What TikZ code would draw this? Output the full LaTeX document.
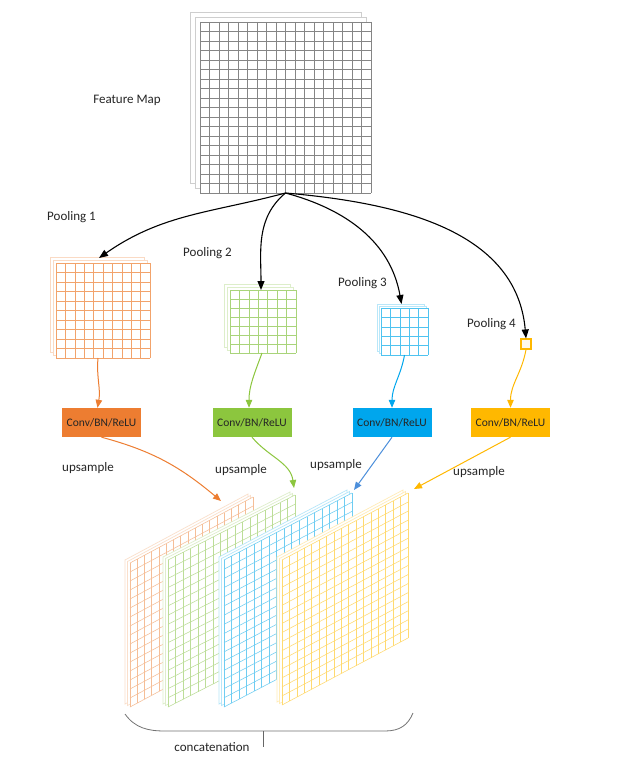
\documentclass[tikz,border=0pt]{standalone}
\usepackage{fontspec}
\setmainfont{Carlito}
\usetikzlibrary{arrows.meta}
\definecolor{cOr}{HTML}{ED7D31}
\definecolor{cGr}{HTML}{8CC63E}
\definecolor{cBl}{HTML}{00A6ED}
\definecolor{cYe}{HTML}{FFB800}
\definecolor{cUpB}{HTML}{4C8FDB}
\definecolor{cGray}{HTML}{858585}
\definecolor{gOr}{HTML}{F2A36B}
\definecolor{gGr}{HTML}{A9D47A}
\definecolor{gBl}{HTML}{4FC3F0}
\definecolor{gYe}{HTML}{FFD35C}
\definecolor{hOr}{HTML}{F5BE97}
\definecolor{hGr}{HTML}{BCDD98}
\definecolor{hBl}{HTML}{6FCDF2}
\definecolor{hYe}{HTML}{FFDA70}
% #1 name #2 x #3 y #4 w #5 h #6 n #7 color #8 offset
\newcommand{\flatmap}[8]{%
  \foreach \k in {2,1}{%
    \draw[#7!40, line width=0.9pt, fill=white] ({#2-\k*#8},{#3-\k*#8}) rectangle ++(#4,#5);}
  \node[inner sep=0, outer sep=0, minimum width=#4 pt, minimum height=#5 pt, anchor=north west, fill=white] (#1) at (#2,#3) {};
  \pgfmathsetmacro\fmdx{#4/#6}\pgfmathsetmacro\fmdy{#5/#6}
  \foreach \i in {0,...,#6}{%
    \draw[#7, line width=0.6pt] ({#2+\i*\fmdx},#3) -- ++(0,#5);
    \draw[#7, line width=0.6pt] (#2,{#3+\i*\fmdy}) -- ++(#4,0);}
}
% #1 name #2 bx #3 by #4 w #5 h #6 rise #7 ncols #8 nrows #9 color
\newcommand{\persmap}[9]{%
  \foreach \k in {2,1}{%
    \draw[#9!50, line width=0.7pt, fill=white] ({#2-2.5*\k},{#3-1.5*\k}) -- ++(0,-#5) -- ++(#4,-#6) -- ++(0,#5) -- cycle;}
  \coordinate (#1) at (#2,#3);
  \fill[white] (#2,#3) -- ++(0,-#5) -- ++(#4,-#6) -- ++(0,#5) -- cycle;
  \pgfmathsetmacro\pmdx{#4/#7}\pgfmathsetmacro\pmdr{#6/#7}\pgfmathsetmacro\pmdy{#5/#8}
  \foreach \i in {0,...,#7}{%
    \draw[#9, line width=0.55pt] ({#2+\i*\pmdx},{#3-\i*\pmdr}) -- ++(0,-#5);}
  \foreach \j in {0,...,#8}{%
    \draw[#9, line width=0.55pt] (#2,{#3-\j*\pmdy}) -- ++(#4,-#6);}
}
\begin{document}
\begin{tikzpicture}[x=1pt,y=-1pt,
  lbl/.style={font=\fontsize{13}{15}\selectfont, text=black!85, inner sep=0},
  convbox/.style={minimum width=79pt, minimum height=29pt, inner sep=0, font=\fontsize{11.5}{13}\selectfont, text=black!85},
  blk/.style={-{Triangle[length=9pt,width=7pt]}, line width=1.1pt, black},
  carr/.style={-{Triangle[length=8pt,width=6.5pt]}, line width=1pt}]
\useasboundingbox[fill=white] (0,0) rectangle (616,757);

% feature map
\flatmap{fm}{200}{22}{171}{171}{18}{cGray}{5}
\node[lbl] (tFM) at (127,100) {Feature Map};

% pooling maps
\flatmap{p1}{56}{263}{94}{95}{10}{gOr}{3}
\flatmap{p2}{230}{290}{66}{63}{7}{gGr}{2.8}
\flatmap{p3}{381}{308}{47}{47}{5}{gBl}{2}
\node[draw=cYe, line width=1.1pt, fill=cYe!8, minimum size=10pt, inner sep=0] (p4) at (526,344) {};

\node[lbl, anchor=west] (tP1) at (47,217) {Pooling 1};
\node[lbl, anchor=west] (tP2) at (183,253) {Pooling 2};
\node[lbl, anchor=west] (tP3) at (338,283) {Pooling 3};
\node[lbl, anchor=west] (tP4) at (467,324) {Pooling 4};

% black arrows (angles are page angles)
\draw[blk] (fm.south) to[out=195,in=35] ([shift={(-4,-5)}]p1.north);
\draw[blk] (fm.south) to[out=220,in=90] ([shift={(-2,0)}]p2.north);
\draw[blk] (fm.south) to[out=345,in=100] ([shift={(-3,-4)}]p3.north);
\draw[blk] (fm.south) to[out=355,in=95] (p4.north);

% conv boxes
\node[convbox, fill=cOr] (c1) at (101.5,422.5) {Conv/BN/ReLU};
\node[convbox, fill=cGr] (c2) at (252,422.5) {Conv/BN/ReLU};
\node[convbox, fill=cBl] (c3) at (392,422.5) {Conv/BN/ReLU};
\node[convbox, fill=cYe] (c4) at (510.5,422.5) {Conv/BN/ReLU};

\draw[carr, cOr] ([xshift=-5]p1.south) to[out=265,in=80] ([xshift=-4]c1.north);
\draw[carr, cGr] ([xshift=-1]p2.south) to[out=250,in=90] ([xshift=-3]c2.north);
\draw[carr, cBl] (p3.south) to[out=260,in=90] (c3.north);
\draw[carr, cYe] (p4.south) to[out=260,in=90] (c4.north);

% bottom maps
\persmap{bO}{130}{707}{123}{144}{66}{17}{16}{hOr}
\persmap{bG}{168}{707}{127}{147}{65}{17}{16}{hGr}
\persmap{bB}{224}{707}{128}{147}{67}{17}{16}{hBl}
\persmap{bY}{282}{705}{126}{145}{67}{17}{16}{hYe}

\coordinate (upO) at (221,501);
\coordinate (upG) at (294,488);
\coordinate (upB) at (354,490);
\coordinate (upY) at (414,489);

\draw[carr, cOr] (c1.south) to[out=345,in=140] (upO);
\draw[carr, cGr] (c2.south) to[out=310,in=98] (upG);
\draw[carr, cUpB] (c3.south) -- (upB);
\draw[carr, cYe] (c4.south) -- (upY);

\node[lbl] (u1) at (88,468) {upsample};
\node[lbl] (u2) at (241,470) {upsample};
\node[lbl] (u3) at (336,465) {upsample};
\node[lbl] (u4) at (479,472) {upsample};

% brace
\draw[black!55, line width=0.8pt] (125,714) .. controls (135,728) and (148,731) .. (165,731) -- (385,731) .. controls (400,731) and (408,725) .. (413,713);
\coordinate (brm) at (263,731);
\coordinate (brt) at (263,747);
\draw[black!60, line width=0.8pt] (brm) -- (brt);
\node[lbl] (tCat) at (212,747) {concatenation};
\end{tikzpicture}
\end{document}
